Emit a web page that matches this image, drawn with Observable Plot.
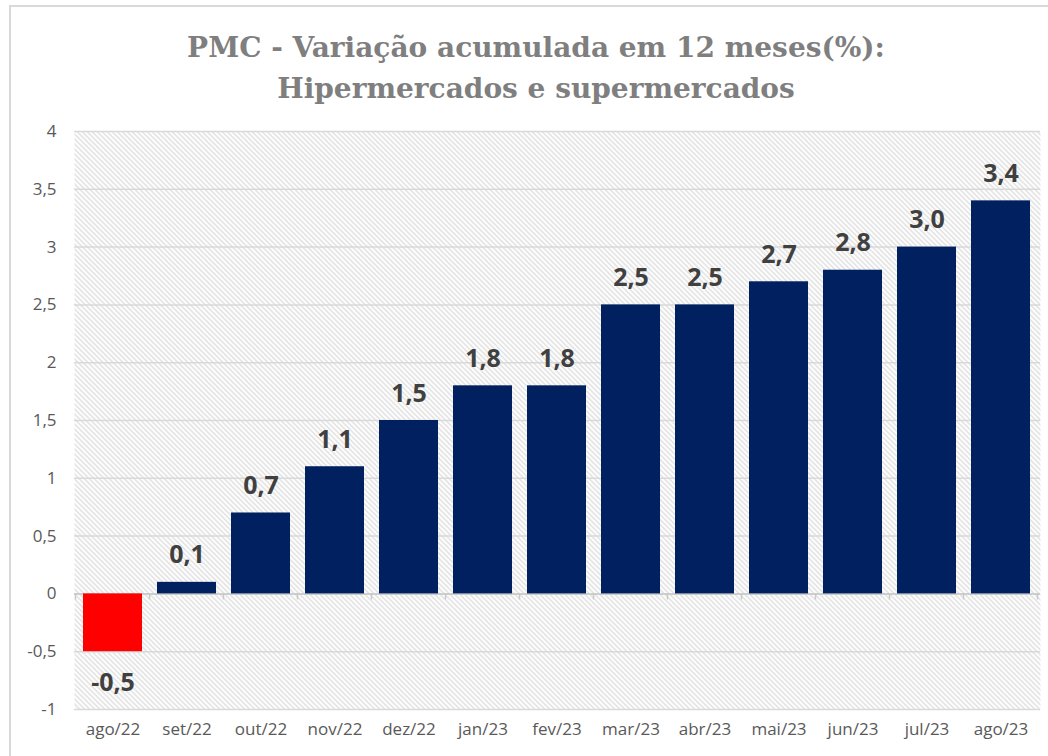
<!DOCTYPE html>
<html>
<head>
<meta charset="utf-8">
<script src="https://cdn.jsdelivr.net/npm/d3@7"></script>
<script src="https://cdn.jsdelivr.net/npm/@observablehq/plot@0.6"></script>
<style>
  html, body { margin: 0; padding: 0; background: #fff; overflow: hidden; }
  body { width: 1048px; height: 756px; position: relative; }
  #frame { position: absolute; left: 9px; top: 5px; width: 1100px; height: 800px; border: 2px solid #d9d9d9; box-sizing: border-box; }
  #title { position: absolute; left: 0; top: 0; width: 1072px; height: 110px; text-align: center;
    font-family: "DejaVu Serif", serif; font-weight: bold; font-size: 28px; line-height: 41px;
    color: #7f7f7f; padding-top: 27px; box-sizing: border-box; }
  #chart { position: absolute; left: 0; top: 110px; }
</style>
</head>
<body>
<div id="frame"></div>
<div id="title">PMC - Variação acumulada em 12 meses(%):<br>Hipermercados e supermercados</div>
<div id="chart"></div>
<script>
const months = ["ago/22","set/22","out/22","nov/22","dez/22","jan/23","fev/23","mar/23","abr/23","mai/23","jun/23","jul/23","ago/23"];
const values = [-0.5, 0.1, 0.7, 1.1, 1.5, 1.8, 1.8, 2.5, 2.5, 2.7, 2.8, 3.0, 3.4];
const yTicks = [-1, -0.5, 0, 0.5, 1, 1.5, 2, 2.5, 3, 3.5, 4];

const data = months.map((m, i) => ({month: m, value: values[i]}));
const comma = (v, digits) => (digits == null ? String(v) : v.toFixed(digits)).replace(".", ",");
const labelStyle = {
  x: "month", y: "value", text: d => comma(d.value, 1),
  fontWeight: "bold", fontSize: 25, fill: "#404040",
  fontFamily: "'Open Sans', sans-serif"
};

// tick marks on the zero line at category boundaries
function boundaryTicks(index, scales) {
  const x = scales.x, y = scales.y;
  const ns = "http://www.w3.org/2000/svg";
  const g = document.createElementNS(ns, "g");
  if (!x || typeof x.step !== "function") return g;
  const step = x.step(), bw = x.bandwidth();
  const y0 = y(0);
  const xs = months.map(m => x(m) - (step - bw) / 2);
  xs.push(x(months[months.length - 1]) + bw + (step - bw) / 2);
  for (const px of xs) {
    const l = document.createElementNS(ns, "line");
    l.setAttribute("x1", px); l.setAttribute("x2", px);
    l.setAttribute("y1", y0); l.setAttribute("y2", y0 + 6);
    l.setAttribute("stroke", "#c8c8c8"); l.setAttribute("stroke-width", "1.5");
    g.appendChild(l);
  }
  return g;
}

const svg = Plot.plot({
  width: 1048,
  height: 646,
  marginTop: 21,
  marginBottom: 47,
  marginLeft: 74,
  marginRight: 8,
  style: {fontFamily: "'Open Sans', sans-serif", fontSize: "17px", color: "#595959", background: "transparent"},
  x: {domain: months, paddingInner: 0.2, paddingOuter: 0.1, label: null, tickSize: 0, tickPadding: 13},
  y: {domain: [-1, 4], ticks: yTicks, tickFormat: d => comma(d), label: null, tickSize: 0, tickPadding: 18},
  marks: [
    Plot.frame({fill: "url(#hatch)", stroke: null}),
    Plot.gridY(yTicks, {stroke: "#d9d9d9", strokeOpacity: 1, strokeWidth: 1.5}),
    Plot.ruleY([0], {stroke: "#c8c8c8", strokeWidth: 1.5}),
    boundaryTicks,
    Plot.barY(data, {x: "month", y: "value", fill: d => d.value < 0 ? "#ff0000" : "#002060"}),
    Plot.text(data.filter(d => d.value >= 0), {...labelStyle, dy: -27}),
    Plot.text(data.filter(d => d.value < 0), {...labelStyle, dy: 31})
  ]
});

const ns = "http://www.w3.org/2000/svg";
const defs = document.createElementNS(ns, "defs");
let rects = "";
for (let i = 0; i < 5; i++) rects += `<rect x="${i}" y="${i}" width="2" height="1"/>`;
rects += `<rect x="0" y="4" width="1" height="1"/>`;
defs.innerHTML = `<pattern id="hatch" patternUnits="userSpaceOnUse" width="5" height="5">
  <g fill="#dedede" shape-rendering="crispEdges">${rects}</g>
</pattern>`;
svg.insertBefore(defs, svg.firstChild);
document.getElementById("chart").appendChild(svg);
</script>
</body>
</html>
